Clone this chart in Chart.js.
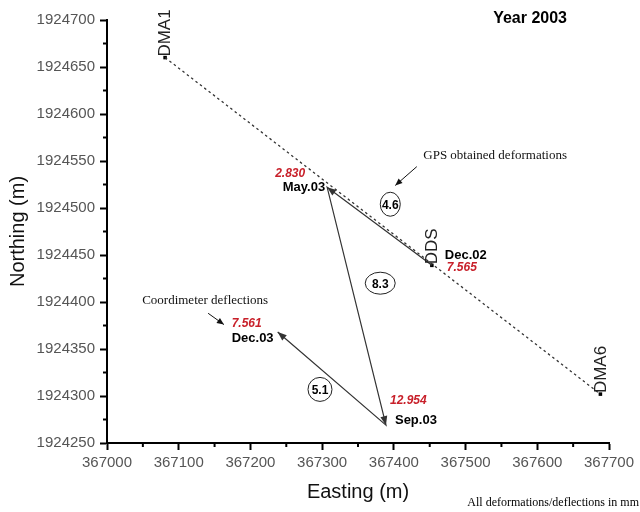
<!DOCTYPE html>
<html>
<head>
<meta charset="utf-8">
<title>Year 2003 deformations</title>
<script src="https://cdn.jsdelivr.net/npm/chart.js@4/dist/chart.umd.min.js"></script>
<style>
    html, body { margin: 0; padding: 0; background: #fff; }
    canvas { display: block; }
</style>
</head>
<body>
<canvas id="chart" width="640" height="512"></canvas>
<script>
// -----------------------------------------------------------------------------
// Data
// -----------------------------------------------------------------------------

const stationNames = ['DMA1', 'DDS', 'DMA6'];
const stationEasting = [367081, 367453, 367688];
const stationNorthing = [1924660, 1924439, 1924302];

const epochLabels = ['Dec.02', 'May.03', 'Sep.03', 'Dec.03'];
const epochEasting = [367453, 367307, 367389, 367238];
const epochNorthing = [1924439, 1924522, 1924269, 1924368];
const epochValues = ['7.565', '2.830', '12.954', '7.561'];

// magnitude of each movement between consecutive epochs
const movementValues = ['4.6', '8.3', '5.1'];

const xRange = [367000, 367700];
const yRange = [1924250, 1924700];
const xStep = 100;
const yStep = 50;

// -----------------------------------------------------------------------------
// Styling / annotation placement
// -----------------------------------------------------------------------------

const TICK_FONT = { family: '"Liberation Sans", Arial, sans-serif', size: 15 };
const TITLE_FONT = { family: '"Liberation Sans", Arial, sans-serif', size: 20 };
const SANS = '"Liberation Sans", Arial, sans-serif';
const SERIF = '"Liberation Serif", "Times New Roman", serif';
const RED = '#c8202a';

// label offsets (px) from each epoch point: [dx, dy, align]
const epochLabelPlacement = [
    { value: [15, 2, 'left'], label: [13, -10, 'left'] },
    { value: [-22, -14, 'right'], label: [-2, 0, 'right'] },
    { value: [4, -24, 'left'], label: [9, -5, 'left'] },
    { value: [-46, -8, 'left'], label: [-46, 6, 'left'] }
];

// ellipse centres in data units, radii in px
const movementEllipses = [
    { x: 367395, y: 1924504, rx: 10, ry: 12 },
    { x: 367381, y: 1924420, rx: 15, ry: 11 },
    { x: 367297, y: 1924307, rx: 12, ry: 12 }
];

const notes = [
    { text: 'GPS obtained deformations', x: 367441, y: 1924556, from: [367432, 1924544], to: [367402, 1924524] },
    { text: 'Coordimeter deflections', x: 367049, y: 1924402, from: [367141, 1924388], to: [367163, 1924376] }
];

// -----------------------------------------------------------------------------
// Helpers
// -----------------------------------------------------------------------------

function arrowHead(ctx, x1, y1, x2, y2, len, half) {
    const a = Math.atan2(y2 - y1, x2 - x1);
    ctx.beginPath();
    ctx.moveTo(x2, y2);
    ctx.lineTo(x2 - len * Math.cos(a) + half * Math.sin(a), y2 - len * Math.sin(a) - half * Math.cos(a));
    ctx.lineTo(x2 - len * Math.cos(a) - half * Math.sin(a), y2 - len * Math.sin(a) + half * Math.cos(a));
    ctx.closePath();
    ctx.fill();
}

const annotationPlugin = {
    id: 'annotations',
    afterDatasetsDraw(chart) {
        const ctx = chart.ctx;
        const xs = chart.scales.x;
        const ys = chart.scales.y;
        const px = v => xs.getPixelForValue(v);
        const py = v => ys.getPixelForValue(v);
        ctx.save();

        // minor ticks halfway between the major ones
        ctx.strokeStyle = '#000';
        ctx.lineWidth = 2;
        for (let v = xRange[0] + xStep / 2; v < xRange[1]; v += xStep) {
            ctx.beginPath();
            ctx.moveTo(px(v), chart.chartArea.bottom);
            ctx.lineTo(px(v), chart.chartArea.bottom + 4);
            ctx.stroke();
        }
        for (let v = yRange[0] + yStep / 2; v < yRange[1]; v += yStep) {
            ctx.beginPath();
            ctx.moveTo(chart.chartArea.left, py(v));
            ctx.lineTo(chart.chartArea.left - 4, py(v));
            ctx.stroke();
        }

        // arrowheads along the movement path
        ctx.fillStyle = '#333';
        for (let i = 0; i < epochEasting.length - 1; i++) {
            arrowHead(ctx, px(epochEasting[i]), py(epochNorthing[i]),
                px(epochEasting[i + 1]), py(epochNorthing[i + 1]), 9, 3.5);
        }

        // station names, rotated
        ctx.fillStyle = '#222';
        ctx.font = '17px ' + SANS;
        ctx.textAlign = 'left';
        ctx.textBaseline = 'middle';
        stationNames.forEach((name, i) => {
            ctx.save();
            ctx.translate(px(stationEasting[i]) + 0.5, py(stationNorthing[i]) - 1);
            ctx.rotate(-Math.PI / 2);
            ctx.fillText(name, 0, 0);
            ctx.restore();
        });

        // epoch names and values
        epochLabels.forEach((label, i) => {
            const x = px(epochEasting[i]);
            const y = py(epochNorthing[i]);
            const p = epochLabelPlacement[i];
            ctx.fillStyle = RED;
            ctx.font = 'italic bold 12px ' + SANS;
            ctx.textAlign = p.value[2];
            ctx.fillText(epochValues[i], x + p.value[0], y + p.value[1]);
            ctx.fillStyle = '#000';
            ctx.font = 'bold 13px ' + SANS;
            ctx.textAlign = p.label[2];
            ctx.fillText(label, x + p.label[0], y + p.label[1]);
        });

        // movement magnitudes in ellipses
        ctx.lineWidth = 1;
        ctx.strokeStyle = '#222';
        ctx.fillStyle = '#000';
        ctx.font = 'bold 12px ' + SANS;
        ctx.textAlign = 'center';
        movementValues.forEach((val, i) => {
            const e = movementEllipses[i];
            ctx.beginPath();
            ctx.ellipse(px(e.x), py(e.y), e.rx, e.ry, 0, 0, Math.PI * 2);
            ctx.stroke();
            ctx.fillText(val, px(e.x), py(e.y) + 1);
        });

        // explanatory notes with pointer arrows
        ctx.font = '13px ' + SERIF;
        ctx.textAlign = 'left';
        notes.forEach(n => {
            ctx.fillStyle = '#111';
            ctx.fillText(n.text, px(n.x), py(n.y));
            const x1 = px(n.from[0]), y1 = py(n.from[1]);
            const x2 = px(n.to[0]), y2 = py(n.to[1]);
            ctx.strokeStyle = '#111';
            ctx.beginPath();
            ctx.moveTo(x1, y1);
            ctx.lineTo(x2, y2);
            ctx.stroke();
            arrowHead(ctx, x1, y1, x2, y2, 7, 3);
        });

        // heading and footnote
        ctx.fillStyle = '#000';
        ctx.font = 'bold 16px ' + SANS;
        ctx.textAlign = 'right';
        ctx.fillText('Year 2003', 567, 19);
        ctx.font = '12px ' + SERIF;
        ctx.fillText('All deformations/deflections in mm', 639, 503);

        ctx.restore();
    }
};

// -----------------------------------------------------------------------------
// Chart
// -----------------------------------------------------------------------------

const axisCommon = {
    type: 'linear',
    border: { color: '#000', width: 2 },
    grid: { drawOnChartArea: false, drawTicks: true, tickLength: 7, tickColor: '#000', tickWidth: 2 }
};

new Chart(document.getElementById('chart').getContext('2d'), {
    type: 'scatter',
    data: {
        datasets: [
            {
                label: 'Station line',
                data: [
                    { x: stationEasting[0], y: stationNorthing[0] },
                    { x: stationEasting[2], y: stationNorthing[2] }
                ],
                showLine: true,
                borderColor: '#333',
                borderWidth: 1.3,
                borderDash: [2.5, 3],
                pointRadius: 0
            },
            {
                label: 'Movement',
                data: epochEasting.map((x, i) => ({ x: x, y: epochNorthing[i] })),
                showLine: true,
                borderColor: '#333',
                borderWidth: 1.2,
                pointRadius: 0
            },
            {
                label: 'Stations',
                data: stationEasting.map((x, i) => ({ x: x, y: stationNorthing[i] })),
                pointStyle: 'rect',
                pointRadius: 2.5,
                backgroundColor: '#000',
                borderColor: '#000',
                borderWidth: 0
            }
        ]
    },
    options: {
        responsive: false,
        animation: false,
        layout: { padding: { left: 0, top: 20, right: 31, bottom: 0 } },
        plugins: {
            legend: { display: false },
            tooltip: { enabled: false }
        },
        scales: {
            x: {
                ...axisCommon,
                min: xRange[0],
                max: xRange[1],
                ticks: { stepSize: xStep, autoSkip: false, maxRotation: 0, padding: 4, color: '#555', font: TICK_FONT,
                         callback: v => String(v) },
                title: { display: true, text: 'Easting (m)', color: '#111', font: TITLE_FONT, padding: { bottom: 8 } },
                afterFit: s => { s.height = 69; }
            },
            y: {
                ...axisCommon,
                min: yRange[0],
                max: yRange[1],
                ticks: { stepSize: yStep, autoSkip: false, padding: 5, color: '#555', font: TICK_FONT,
                         callback: v => String(v) },
                title: { display: true, text: 'Northing (m)', color: '#111', font: TITLE_FONT, padding: { top: 6 } },
                afterFit: s => { s.width = 107; }
            }
        }
    },
    plugins: [annotationPlugin]
});
</script>
</body>
</html>
